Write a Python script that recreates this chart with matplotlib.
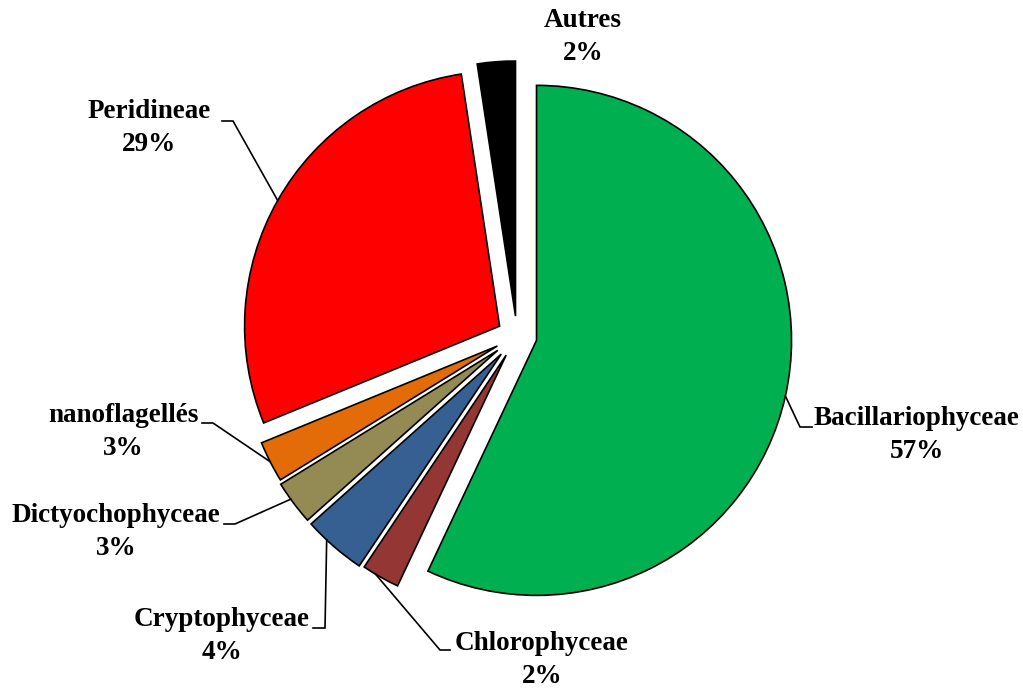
import numpy as np
import matplotlib.pyplot as plt

# données du graphique (en %)
categories = ['Bacillariophyceae', 'Chlorophyceae', 'Cryptophyceae',
              'Dictyochophyceae', 'nanoflagellés', 'Peridineae', 'Autres']
values = [57.0, 2.4, 4.0, 2.8, 2.6, 28.8, 2.4]
colors = ['#00B050', '#943634', '#366092', '#948A54', '#E36C09', '#FF0000', '#000000']

# mise en page (pixels de l'image) : centre du texte, coude et bout du trait de rappel
W, H = 1023, 688
CX, CY, R = 517, 336, 255
text_pos = [(917, 435), (542, 660), (222, 636), (116, 532), (123, 432), (149, 128), (583, 37)]
elbows = [(800, 427), (440, 650), (325, 628), (235, 524), (213, 423), (233, 121), None]
ends = [(812, 427), (450, 650), (313, 628), (224, 524), (202, 423), (222, 121), None]
attach = [0.5, 0.65, 0.65, 0.6, 0.5, 0.5, 0.5]   # point d'accroche le long de l'arc
explode = [20 / R, 22 / R, 24 / R, 24 / R, 22 / R, 20 / R, 20 / R]


def px(p):
    return ((p[0] - CX) / R, (CY - p[1]) / R)


fig = plt.figure(figsize=(W / 100, H / 100), dpi=100)
ax = fig.add_axes([0, 0, 1, 1])

wedges, _ = ax.pie(values, colors=colors, startangle=90, counterclock=False,
                   explode=explode,
                   wedgeprops=dict(edgecolor='black', linewidth=1.2))

total = sum(values)
for i, (name, v) in enumerate(zip(categories, values)):
    w = wedges[i]
    ang = np.deg2rad(w.theta1 + attach[i] * (w.theta2 - w.theta1))
    if i > 0:
        ang = np.deg2rad(w.theta2 - attach[i] * (w.theta2 - w.theta1))
    cx, cy = w.center
    edge = (cx + np.cos(ang), cy + np.sin(ang))
    if elbows[i] is not None:
        e = px(elbows[i])
        t = px(ends[i])
        ax.plot([edge[0], e[0], t[0]], [edge[1], e[1], t[1]],
                color='black', linewidth=1.2, solid_joinstyle='miter')
    tx, ty = px(text_pos[i])
    ax.text(tx, ty, f'{name}\n{round(100 * v / total)}%', ha='center', va='center',
            multialignment='center', fontsize=19.5, fontweight='bold',
            family=['Liberation Serif', 'DejaVu Serif'], linespacing=1.4)

ax.set_xlim(-CX / R, (W - CX) / R)
ax.set_ylim(-(H - CY) / R, CY / R)
ax.set_aspect('equal')
ax.axis('off')

fig.savefig('out.png', dpi=100)
